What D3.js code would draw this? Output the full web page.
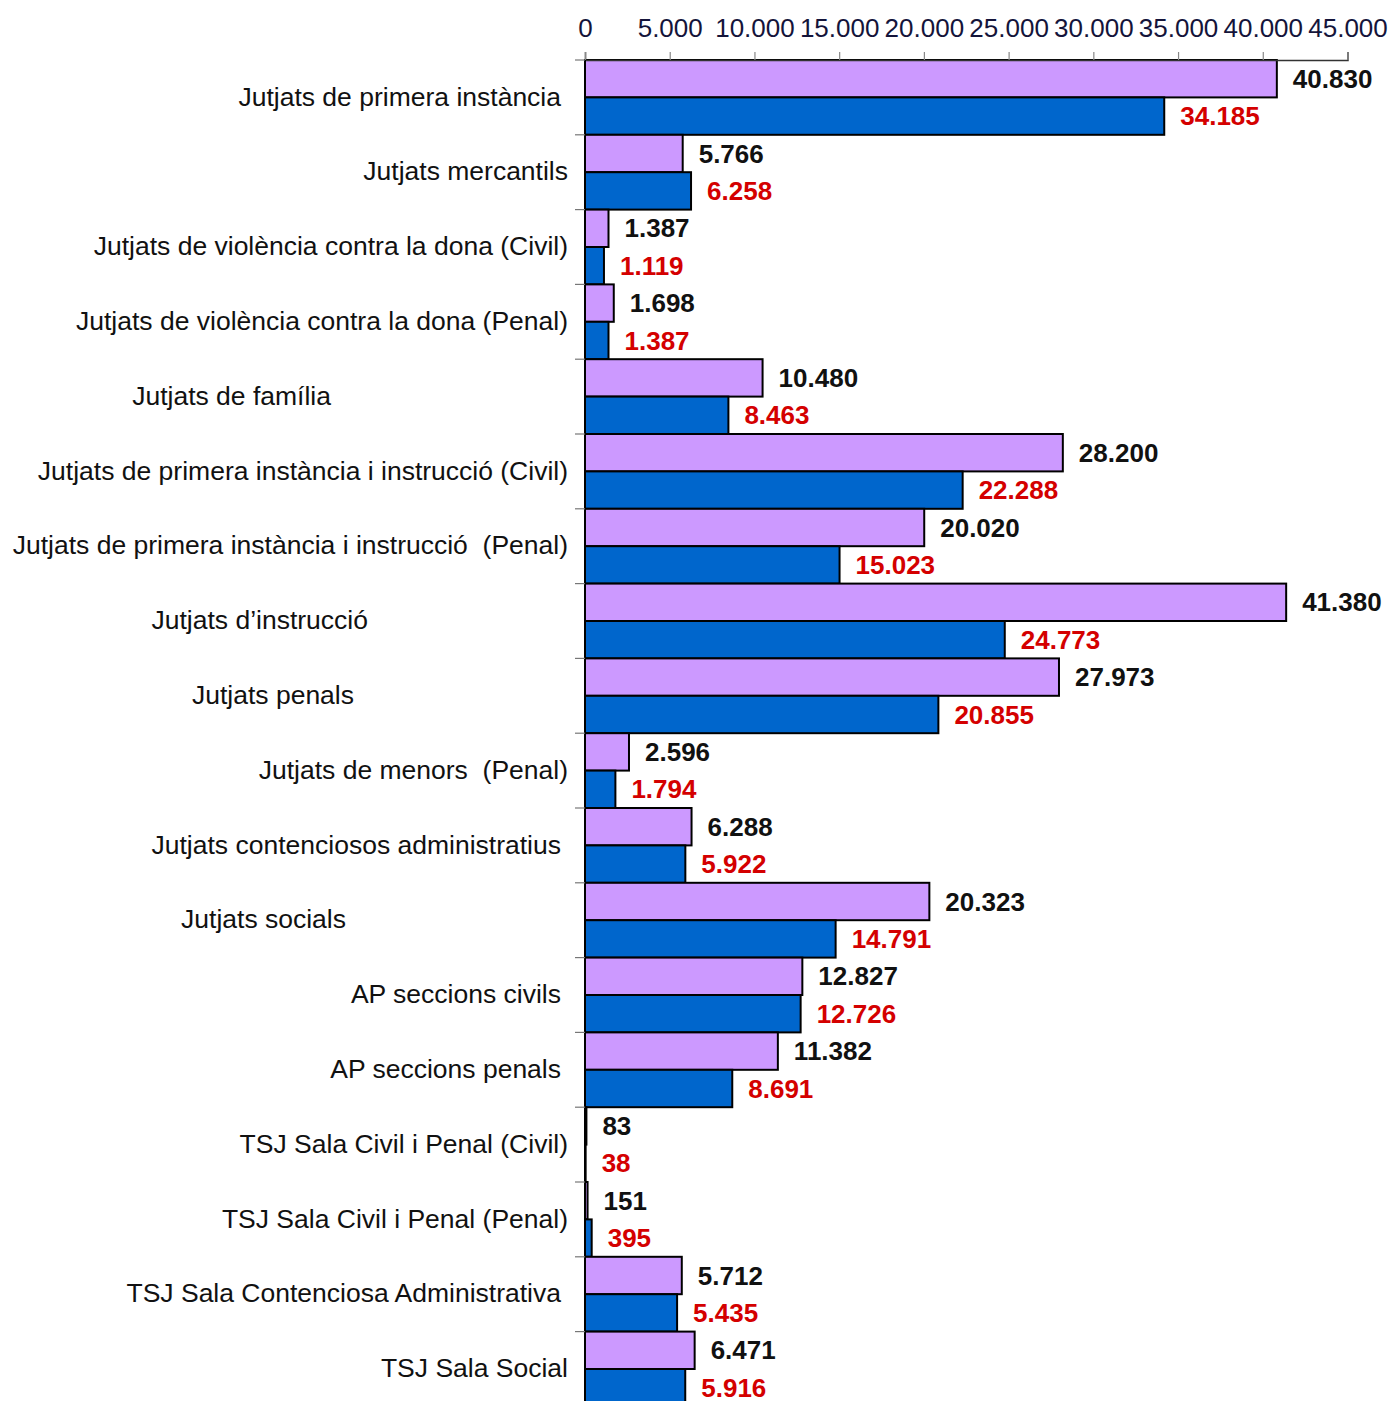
<!DOCTYPE html>
<html><head><meta charset="utf-8">
<script src="https://cdn.jsdelivr.net/npm/d3@7"></script>
<style>
html,body{margin:0;padding:0;background:#fff;overflow:hidden;}
text{font-family:"Liberation Sans",Arial,sans-serif;white-space:pre;}
</style></head>
<body>
<script>
const categories = [
  "Jutjats de primera instància",
  "Jutjats mercantils",
  "Jutjats de violència contra la dona (Civil)",
  "Jutjats de violència contra la dona (Penal)",
  "Jutjats de família",
  "Jutjats de primera instància i instrucció (Civil)",
  "Jutjats de primera instància i instrucció  (Penal)",
  "Jutjats d’instrucció",
  "Jutjats penals",
  "Jutjats de menors  (Penal)",
  "Jutjats contenciosos administratius",
  "Jutjats socials",
  "AP seccions civils",
  "AP seccions penals",
  "TSJ Sala Civil i Penal (Civil)",
  "TSJ Sala Civil i Penal (Penal)",
  "TSJ Sala Contenciosa Administrativa",
  "TSJ Sala Social"
];
const seriesA = [40830, 5766, 1387, 1698, 10480, 28200, 20020, 41380, 27973, 2596, 6288, 20323, 12827, 11382, 83, 151, 5712, 6471];
const seriesB = [34185, 6258, 1119, 1387, 8463, 22288, 15023, 24773, 20855, 1794, 5922, 14791, 12726, 8691, 38, 395, 5435, 5916];
const tickValues = [0, 5000, 10000, 15000, 20000, 25000, 30000, 35000, 40000, 45000];

// layout: right end of each category label (Excel-style irregular alignment)
const labelEnds = [561, 568, 568, 568, 331, 568, 568, 368, 354, 568, 561, 346, 561, 561, 568, 568, 561, 568];

const W = 1392, H = 1401;
const svg = d3.select("body").append("svg").attr("width", W).attr("height", H);

const locale = d3.formatLocale({decimal: ",", thousands: ".", grouping: [3], currency: ["", "€"]});
const fmt = locale.format(",d");

const x = d3.scaleLinear().domain([0, 45000]).range([585, 1347.5]);
const y = d3.scaleBand().domain(categories).range([60, 60 + 18 * 74.8]).padding(0);
const sub = d3.scaleBand().domain(["A", "B"]).range([0, y.bandwidth()]).padding(0);

const rows = categories.map((c, i) => ({c, i, a: seriesA[i], b: seriesB[i]}));

// bars
const colors = {A: "#CC99FF", B: "#0066CC"};
const g = svg.append("g");
rows.forEach(r => {
  [["A", r.a], ["B", r.b]].forEach(([k, v]) => {
    g.append("rect")
      .attr("x", x(0))
      .attr("y", y(r.c) + sub(k))
      .attr("width", x(v) - x(0))
      .attr("height", sub.bandwidth())
      .attr("fill", colors[k])
      .attr("stroke", "#000")
      .attr("stroke-width", 2);
  });
});

// top axis
const axis = d3.axisTop(x).tickValues(tickValues).tickFormat(fmt).tickSize(8).tickPadding(15);
const ax = svg.append("g").attr("transform", "translate(0,60)").call(axis);
ax.select(".domain").attr("stroke", "#333").attr("stroke-width", 1.5);
ax.selectAll(".tick line").attr("stroke", "#888").attr("stroke-width", 1.2);
ax.selectAll(".tick text").attr("font-size", 26).attr("fill", "#14143a")
  .attr("font-family", "Liberation Sans, Arial, sans-serif");

// left axis line and category separator ticks
svg.append("line").attr("x1", x(0)).attr("x2", x(0)).attr("y1", 60).attr("y2", H)
  .attr("stroke", "#000").attr("stroke-width", 2);
svg.selectAll(".sep").data(categories).enter().append("line")
  .attr("x1", x(0) - 10).attr("x2", x(0))
  .attr("y1", d => y(d)).attr("y2", d => y(d))
  .attr("stroke", "#777").attr("stroke-width", 1.2);

// category labels
svg.selectAll(".cat").data(rows).enter().append("text")
  .attr("x", d => labelEnds[d.i])
  .attr("y", d => y(d.c) + y.bandwidth() / 2 - 1)
  .attr("dy", "0.35em")
  .attr("text-anchor", "end")
  .attr("font-size", 26.5)
  .attr("fill", "#111")
  .text(d => d.c);

// value labels
svg.selectAll(".va").data(rows).enter().append("text")
  .attr("x", d => x(d.a) + 16)
  .attr("y", d => y(d.c) + sub("A") + sub.bandwidth() / 2)
  .attr("dy", "0.35em")
  .attr("font-size", 26).attr("font-weight", "bold").attr("fill", "#111")
  .text(d => fmt(d.a));
svg.selectAll(".vb").data(rows).enter().append("text")
  .attr("x", d => x(d.b) + 16)
  .attr("y", d => y(d.c) + sub("B") + sub.bandwidth() / 2)
  .attr("dy", "0.35em")
  .attr("font-size", 26).attr("font-weight", "bold").attr("fill", "#D40000")
  .text(d => fmt(d.b));
</script>
</body></html>
